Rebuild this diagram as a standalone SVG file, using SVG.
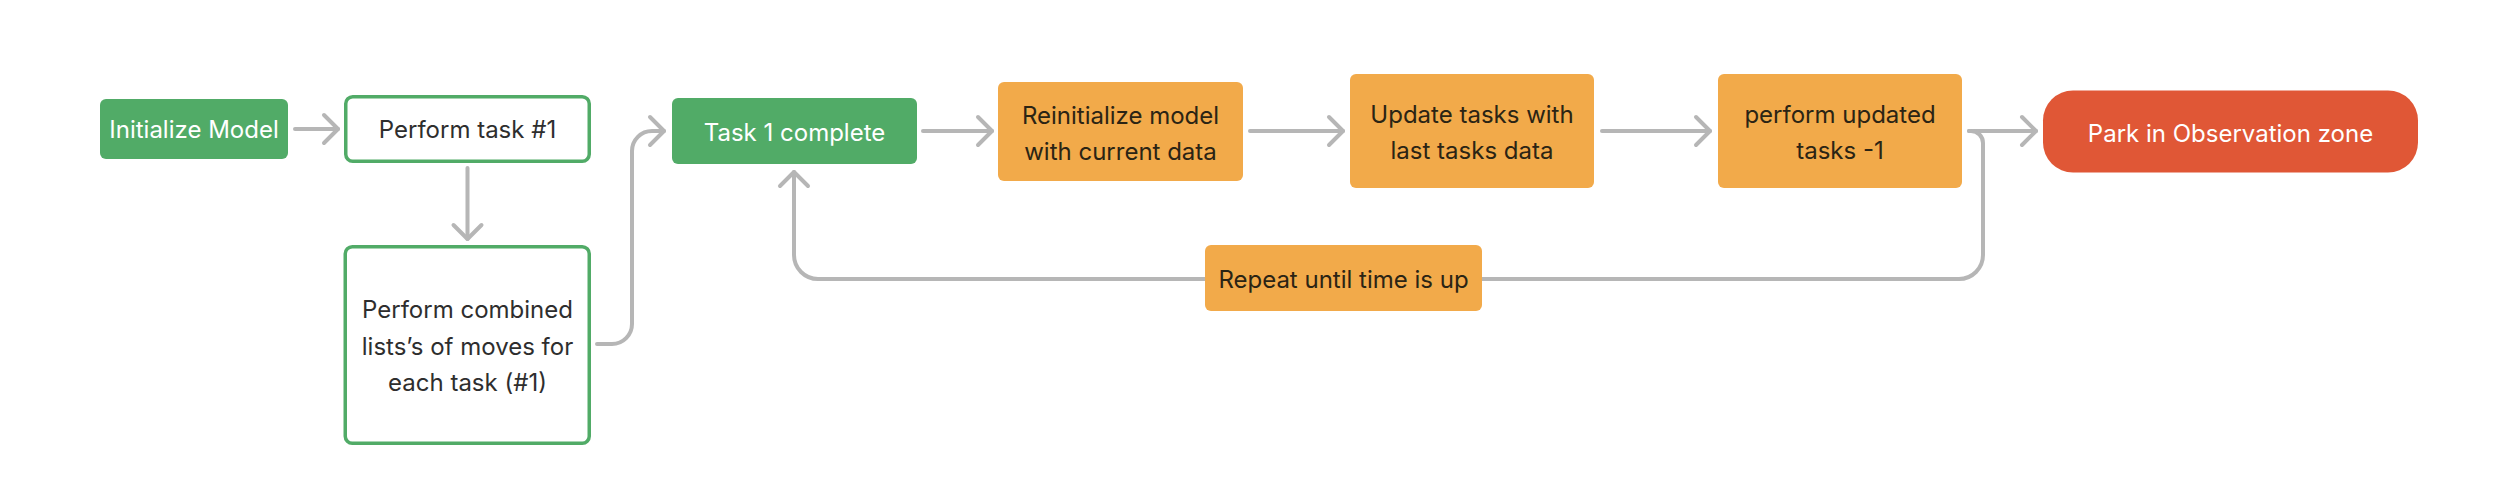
<svg xmlns="http://www.w3.org/2000/svg" width="2514" height="504" viewBox="0 0 2514 504">
<defs>
<style>
.t{font-family:Inter,"Noto Sans","Liberation Sans",sans-serif;font-size:24px;text-anchor:middle}
.w{fill:#ffffff}
.d{fill:#2e2e2e}
.o{fill:#2b2414}
.green{fill:#51ab67}
.orange{fill:#f2aa4a}
.red{fill:#e05736}
.outline{fill:#ffffff;stroke:#51ab67;stroke-width:3.5}
.c{fill:none;stroke:#b6b6b6;stroke-width:4;stroke-linecap:round;stroke-linejoin:round}
</style>
<marker id="ah" markerUnits="userSpaceOnUse" viewBox="-18 -18 22 36" markerWidth="22" markerHeight="36" refX="0" refY="0" orient="auto">
<path d="M-14,-14 L0,0 L-14,14" fill="none" stroke="#b6b6b6" stroke-width="4" stroke-linecap="round" stroke-linejoin="round"/>
</marker>
</defs>
<rect width="2514" height="504" fill="#ffffff"/>
<g id="connectors">
<path class="c" d="M295,129 H338" marker-end="url(#ah)"/>
<path class="c" d="M467.5,168 V239" marker-end="url(#ah)"/>
<path class="c" d="M597,344 H612 A20,20 0 0 0 632,324 V151 A20,20 0 0 1 652,131 H664" marker-end="url(#ah)"/>
<path class="c" d="M923,131 H992" marker-end="url(#ah)"/>
<path class="c" d="M1250,131 H1343" marker-end="url(#ah)"/>
<path class="c" d="M1602,131 H1710" marker-end="url(#ah)"/>
<path class="c" d="M1969,131 H2036" marker-end="url(#ah)"/>
<path class="c" d="M1969,131 H1971 A12,12 0 0 1 1983,143 V255 A24,24 0 0 1 1959,279 H818 A24,24 0 0 1 794,255 V172" marker-end="url(#ah)"/>
</g>
<g id="init">
<rect class="green" x="100" y="99" width="188" height="60" rx="6"/>
<text class="t w" x="194" y="138">Initialize Model</text>
</g>
<g id="task1">
<rect class="outline" x="345.75" y="96.75" width="243.5" height="64.5" rx="7"/>
<text class="t d" x="467.5" y="138">Perform task #1</text>
</g>
<g id="combined">
<rect class="outline" x="345.25" y="246.75" width="244" height="196.5" rx="7"/>
<text class="t d" x="467.5" y="318">Perform combined</text>
<text class="t d" x="467.5" y="354.5">lists’s of moves for</text>
<text class="t d" x="467.5" y="391">each task (#1)</text>
</g>
<g id="complete">
<rect class="green" x="672" y="98" width="245" height="66" rx="6"/>
<text class="t w" x="794.5" y="140.5">Task 1 complete</text>
</g>
<g id="reinit">
<rect class="orange" x="998" y="82" width="245" height="99" rx="6"/>
<text class="t o" x="1120.5" y="123.5">Reinitialize model</text>
<text class="t o" x="1120.5" y="159.5">with current data</text>
</g>
<g id="update">
<rect class="orange" x="1350" y="74" width="244" height="114" rx="6"/>
<text class="t o" x="1472" y="123">Update tasks with</text>
<text class="t o" x="1472" y="158.5">last tasks data</text>
</g>
<g id="performupdated">
<rect class="orange" x="1718" y="74" width="244" height="114" rx="6"/>
<text class="t o" x="1840" y="123">perform updated</text>
<text class="t o" x="1840" y="158.5">tasks -1</text>
</g>
<g id="park">
<rect class="red" x="2043" y="90.5" width="375" height="82" rx="30"/>
<text class="t w" x="2230.5" y="141.5">Park in Observation zone</text>
</g>
<g id="repeat">
<rect class="orange" x="1205" y="245" width="277" height="66" rx="6"/>
<text class="t o" x="1343.5" y="287.5">Repeat until time is up</text>
</g>
</svg>
